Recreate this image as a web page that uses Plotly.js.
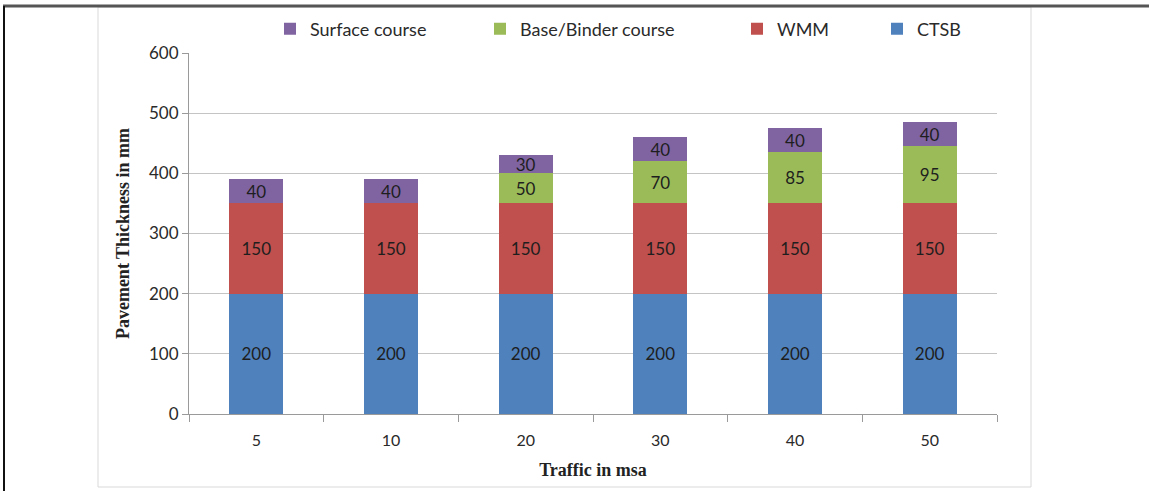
<!DOCTYPE html>
<html>
<head>
<meta charset="utf-8">
<script src="https://cdn.plot.ly/plotly-3.0.1.min.js"></script>
<style>html,body{margin:0;padding:0;background:#fff;}#chart{width:1149px;height:491px;}</style>
</head>
<body>
<div id="chart"></div>
<script>
const categories = ["5", "10", "20", "30", "40", "50"];
const ctsb = [200, 200, 200, 200, 200, 200];
const wmm = [150, 150, 150, 150, 150, 150];
const baseBinder = [null, null, 50, 70, 85, 95];
const surface = [40, 40, 30, 40, 40, 40];
const yTicks = [0, 100, 200, 300, 400, 500, 600];

const W = 1149, H = 491;
const L = 189, R = 997, T = 53, B = 414;
const px = x => (x - L) / (R - L);
const py = y => (B - y) / (B - T);

const labelFont = {family: "Lato, 'Open Sans', sans-serif", size: 17, color: "#1e1e1e"};

function bar(name, vals, color, legendId) {
  return {
    type: "bar", name: name, x: categories, y: vals,
    marker: {color: color, line: {width: 0}},
    text: vals.map(v => v == null ? "" : String(v)),
    texttemplate: "%{text}",
    textposition: "inside", insidetextanchor: "middle", textangle: 0,
    textfont: labelFont, constraintext: "none",
    hoverinfo: "skip", legend: legendId
  };
}

const data = [
  bar("CTSB", ctsb, "#4F81BD", "legend4"),
  bar("WMM", wmm, "#C0504D", "legend3"),
  bar("Base/Binder course", baseBinder, "#9BBB59", "legend2"),
  bar("Surface course", surface, "#8064A2", "legend")
];

function leg(textX) {
  return {
    orientation: "h", xref: "container", yref: "container",
    x: (textX - 42) / W, y: 1 - 29 / H, xanchor: "left", yanchor: "middle",
    font: {family: "Lato, 'Open Sans', sans-serif", size: 18, color: "#2a2a2a"},
    bgcolor: "rgba(0,0,0,0)", itemwidth: 30, tracegroupgap: 0
  };
}

const layout = {
  width: W, height: H,
  margin: {l: L, r: W - R, t: T, b: H - B, pad: 0},
  paper_bgcolor: "#fff", plot_bgcolor: "#fff",
  barmode: "stack", bargap: 0.6,
  showlegend: true,
  legend: leg(312), legend2: leg(522), legend3: leg(779), legend4: leg(919),
  uniformtext: {mode: "show", minsize: 17},
  xaxis: {
    type: "category", showgrid: false, showline: true, linecolor: "#9a9a9a", linewidth: 1,
    ticks: "outside", tickson: "boundaries", ticklen: 7, tickcolor: "#9a9a9a",
    ticklabelstandoff: 12,
    tickfont: {family: "Lato, 'Open Sans', sans-serif", size: 16, color: "#2a2a2a"},
    title: {text: "Traffic in msa", font: {family: "'Liberation Serif', serif", size: 18, color: "#222", weight: "bold"}, standoff: 15},
    fixedrange: true
  },
  yaxis: {
    range: [0, 600], tickvals: yTicks, ticktext: yTicks.map(String),
    showgrid: true, gridcolor: "#c4c4c4", gridwidth: 1,
    showline: true, linecolor: "#9a9a9a", linewidth: 1, zeroline: false,
    ticks: "outside", ticklen: 6, tickcolor: "#9a9a9a",
    tickfont: {family: "Lato, 'Open Sans', sans-serif", size: 17, color: "#2a2a2a"},
    title: {text: "Pavement Thickness in mm", font: {family: "'Liberation Serif', serif", size: 18, color: "#222", weight: "bold"}, standoff: 14},
    fixedrange: true
  },
  shapes: [
    {type: "rect", xref: "paper", yref: "paper", x0: px(98), x1: px(1031), y0: py(487), y1: py(7),
     line: {color: "#d9d9d9", width: 1}, fillcolor: "rgba(0,0,0,0)", layer: "below"},
    {type: "line", xref: "paper", yref: "paper", x0: px(3), x1: px(1149), y0: py(6), y1: py(6),
     line: {color: "#555", width: 3}},
    {type: "line", xref: "paper", yref: "paper", x0: px(4), x1: px(4), y0: py(6), y1: py(491),
     line: {color: "#111", width: 2}}
  ]
};

Plotly.newPlot("chart", data, layout, {staticPlot: true, displayModeBar: false});
</script>
</body>
</html>
